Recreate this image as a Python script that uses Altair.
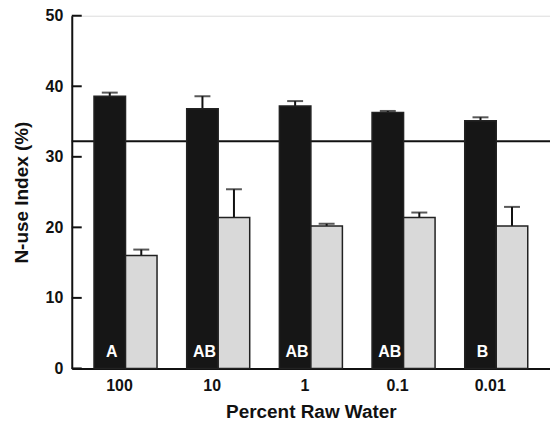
import altair as alt
import pandas as pd

categories = ["100", "10", "1", "0.1", "0.01"]
series = ["Series 1", "Series 2"]
black_vals = [38.6, 36.8, 37.2, 36.3, 35.1]
black_err = [0.5, 1.8, 0.7, 0.2, 0.5]
gray_vals = [16.0, 21.4, 20.2, 21.4, 20.2]
gray_err = [0.85, 4.0, 0.3, 0.7, 2.7]
letters = ["A", "AB", "AB", "AB", "B"]
reference_value = 32.2
y_ticks = [0, 10, 20, 30, 40, 50]

rows = []
for i, c in enumerate(categories):
    rows.append({"cat": c, "series": series[0], "value": black_vals[i],
                 "upper": black_vals[i] + black_err[i], "letter": letters[i], "zero": 0})
    rows.append({"cat": c, "series": series[1], "value": gray_vals[i],
                 "upper": gray_vals[i] + gray_err[i], "letter": "", "zero": 0})
df = pd.DataFrame(rows)

FONT = "Liberation Sans"

x_enc = alt.X("cat:N", sort=categories,
              scale=alt.Scale(paddingInner=0.32, paddingOuter=0.24),
              axis=alt.Axis(title="Percent Raw Water", labelAngle=0, ticks=False,
                            labelFont=FONT, labelFontSize=16, labelFontWeight="bold",
                            labelColor="#111", labelPadding=9, labelOffset=-6,
                            titleFont=FONT, titleFontSize=19, titleFontWeight="bold",
                            titleColor="#111", titlePadding=9,
                            domainColor="#111", domainWidth=2))
xo_enc = alt.XOffset("series:N", sort=series, scale=alt.Scale(paddingInner=0, paddingOuter=0))
y_scale = alt.Scale(domain=[0, 50], nice=False)
y_axis = alt.Axis(title="N-use Index (%)", values=y_ticks, grid=False, ticks=False,
                  labelFont=FONT, labelFontSize=16, labelFontWeight="bold",
                  labelColor="#111", labelPadding=9,
                  titleFont=FONT, titleFontSize=19, titleFontWeight="bold",
                  titleColor="#111", titlePadding=14,
                  domainColor="#111", domainWidth=2)

base = alt.Chart(df)

ref = alt.Chart(pd.DataFrame({"y": [reference_value]})).mark_rule(
    color="#111", strokeWidth=2).encode(y=alt.Y("y:Q", scale=y_scale, axis=y_axis))

ticks_df = pd.DataFrame({"t": y_ticks})
yticks = alt.Chart(ticks_df).mark_rule(color="#111", strokeWidth=2).encode(
    y=alt.Y("t:Q", scale=y_scale), x=alt.value(0), x2=alt.value(10))

stems = base.mark_rule(color="#111", strokeWidth=2).encode(
    x=x_enc, xOffset=xo_enc,
    y=alt.Y("value:Q", scale=y_scale), y2="upper:Q")

caps = base.mark_tick(color="#111", thickness=2, size=16, orient="horizontal").encode(
    x=x_enc, xOffset=xo_enc, y=alt.Y("upper:Q", scale=y_scale))

bars = base.mark_bar(stroke="#222", strokeWidth=1.5).encode(
    x=x_enc, xOffset=xo_enc,
    y=alt.Y("value:Q", scale=y_scale),
    fill=alt.Fill("series:N", scale=alt.Scale(domain=series, range=["#161616", "#d9d9d9"]),
                  legend=None))

labels = base.mark_text(color="white", font=FONT, fontSize=16, fontWeight="bold",
                        baseline="alphabetic", dy=-11, dx=2).encode(
    x=x_enc, xOffset=xo_enc, y=alt.Y("zero:Q", scale=y_scale), text="letter:N")

chart = alt.layer(ref, yticks, stems, caps, bars, labels).properties(
    width=480, height=354,
    autosize=alt.AutoSizeParams(type="none"),
    padding={"left": 64, "top": 7, "right": 0, "bottom": 52},
).configure_view(stroke=None).configure(background="white")

chart.save("out.html", embed_options={"renderer": "svg", "actions": False})
